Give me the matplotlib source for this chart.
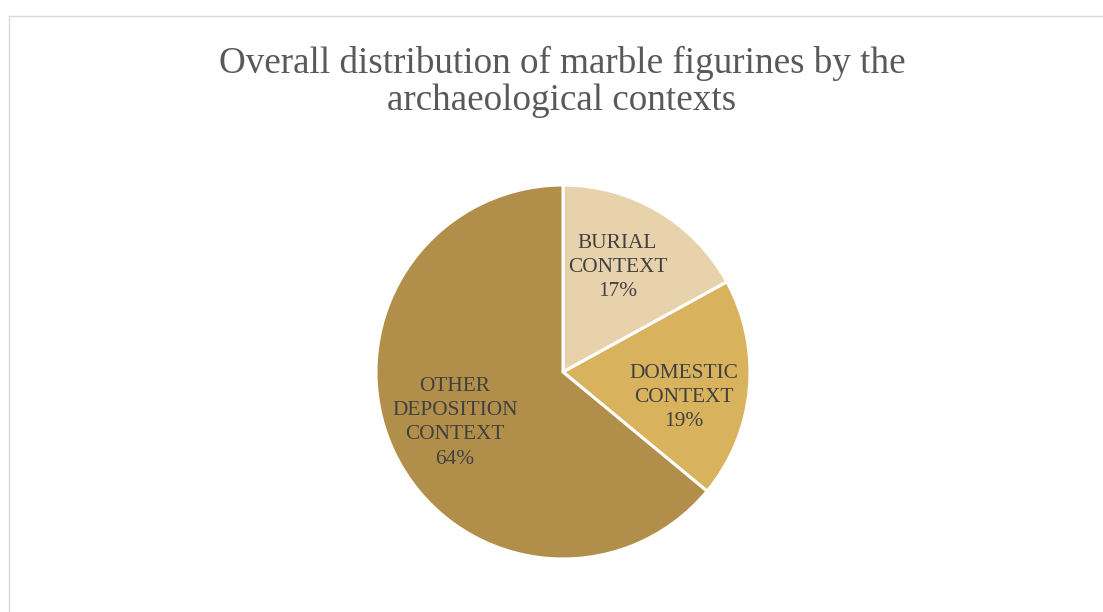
import matplotlib
matplotlib.use("Agg")
import matplotlib.pyplot as plt
from matplotlib.patches import Rectangle

categories = ["BURIAL\nCONTEXT", "DOMESTIC\nCONTEXT", "OTHER\nDEPOSITION\nCONTEXT"]
shares = [17, 19, 64]
colors = ["#E8D2AC", "#D8B25D", "#B18F4B"]
title = "Overall distribution of marble figurines by the\narchaeological contexts"

# small nudges (in pie-radius units) for the in-slice labels
label_nudges = [(-0.035, 0.01), (0.01, -0.075), (0.0, 0.0)]

plt.rcParams["font.family"] = ["Liberation Serif", "DejaVu Serif"]

W, H = 1103, 612
fig = plt.figure(figsize=(W / 100, H / 100), dpi=100)
fig.patch.set_facecolor("white")

# chart-area frame (only top and left edges fall inside the canvas)
fig.add_artist(Rectangle((8.5 / W, -0.1), 1.2, (H - 15.5) / H + 0.1,
                         transform=fig.transFigure, fill=False,
                         edgecolor="#D9D9D9", linewidth=1.0))

fig.text(562 / W, 1 - 82 / H, title, ha="center", va="center",
         fontsize=26.7, color="#595959", linespacing=1.12)

cx, cy, r = 563, 372, 187
ax = fig.add_axes([(cx - r) / W, (H - cy - r) / H, 2 * r / W, 2 * r / H])
labels = [f"{c}\n{v}%" for c, v in zip(categories, shares)]
wedges, texts = ax.pie(shares, colors=colors, startangle=90, counterclock=False,
                       labels=labels, labeldistance=0.64,
                       wedgeprops=dict(edgecolor="white", linewidth=2.2),
                       textprops=dict(fontsize=15.4, color="#404040",
                                      ha="center", va="center", linespacing=1.36))
for t, (dx, dy) in zip(texts, label_nudges):
    t.set_ha("center")
    x, y = t.get_position()
    t.set_position((x + dx, y + dy))
ax.set_xlim(-1, 1)
ax.set_ylim(-1, 1)
ax.set_aspect("equal")
ax.axis("off")

fig.savefig("out.png", dpi=100, facecolor="white")
